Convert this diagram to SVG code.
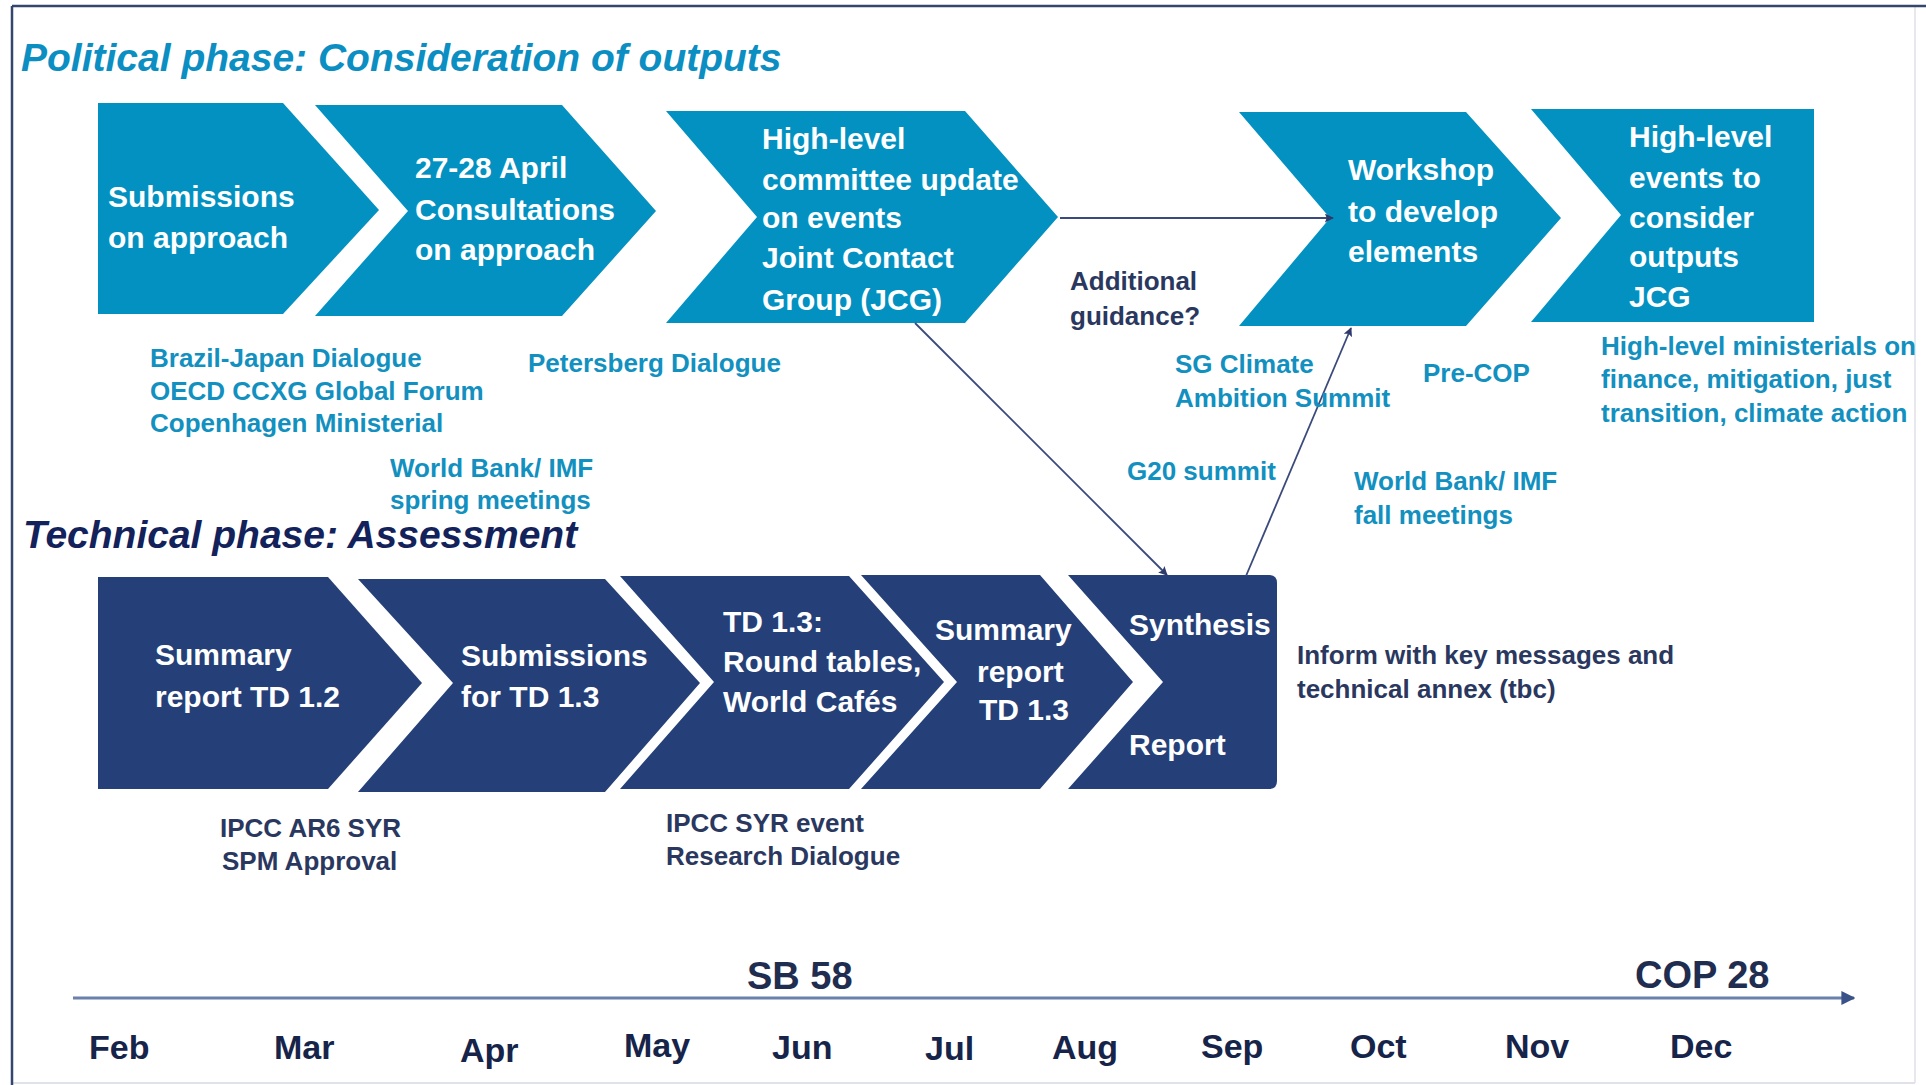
<svg xmlns="http://www.w3.org/2000/svg" width="1926" height="1085" viewBox="0 0 1926 1085">
<defs>
<style>
text{font-family:"Liberation Sans",Arial,sans-serif;font-weight:bold}
.w{fill:#ffffff;font-size:30px}
.t{fill:#1290c0;font-size:26px}
.n{fill:#2a3860;font-size:26px}
.m{fill:#17244a;font-size:34px}
.top{fill:#0391c1}
.bot{fill:#253f78}
.conn{stroke:#3b4a7c;stroke-width:1.8;fill:none}
</style>
<marker id="ah" viewBox="0 0 10 10" refX="9" refY="5" markerWidth="9" markerHeight="9" markerUnits="userSpaceOnUse" orient="auto">
<path d="M0,0 L10,5 L0,10 L2,5 Z" fill="#2d3a6a"/>
</marker>
<marker id="ah2" viewBox="0 0 10 10" refX="9" refY="5" markerWidth="14" markerHeight="14" markerUnits="userSpaceOnUse" orient="auto">
<path d="M0,0 L10,5 L0,10 Z" fill="#3b5288"/>
</marker>
</defs>
<rect x="0" y="0" width="1926" height="1085" fill="#ffffff"/>
<g id="frame">
<line x1="1915" y1="6" x2="1915" y2="1083" stroke="#e6e8ed" stroke-width="2"/>
<line x1="12" y1="1083" x2="1915" y2="1083" stroke="#dfe2e8" stroke-width="2"/>
<line x1="12" y1="6" x2="1926" y2="6" stroke="#34466e" stroke-width="2.5"/>
<line x1="12" y1="6" x2="12" y2="1085" stroke="#34466e" stroke-width="2.5"/>
</g>
<g id="titles">
<text x="21" y="71" font-size="39" font-style="italic" fill="#0b8ec2">Political phase: Consideration of outputs</text>
<text x="23" y="548" font-size="39" font-style="italic" fill="#13225a">Technical phase: Assessment</text>
</g>
<g id="p1"><path class="top" d="M98,103 L283,103 L379,210 L283,314 L98,314 Z"/>
<text class="w" x="108" y="207">Submissions</text><text class="w" x="108" y="248">on approach</text></g>
<g id="p2"><path class="top" d="M315,105 L562,105 L656,211 L562,316 L315,316 L408,211 Z"/>
<text class="w" x="415" y="178">27-28 April</text><text class="w" x="415" y="220">Consultations</text><text class="w" x="415" y="260">on approach</text></g>
<g id="p3"><path class="top" d="M666,111 L965,111 L1058,217 L965,323 L666,323 L757,217 Z"/>
<text class="w" x="762" y="149">High-level</text><text class="w" x="762" y="190">committee update</text><text class="w" x="762" y="228">on events</text><text class="w" x="762" y="268">Joint Contact</text><text class="w" x="762" y="310">Group (JCG)</text></g>
<g id="p4"><path class="top" d="M1239,112 L1466,112 L1561,218 L1466,326 L1239,326 L1330,218 Z"/>
<text class="w" x="1348" y="180">Workshop</text><text class="w" x="1348" y="222">to develop</text><text class="w" x="1348" y="262">elements</text></g>
<g id="p5"><path class="top" d="M1531,109 L1814,109 L1814,322 L1531,322 L1621,215 Z"/>
<text class="w" x="1629" y="147">High-level</text><text class="w" x="1629" y="188">events to</text><text class="w" x="1629" y="228">consider</text><text class="w" x="1629" y="267">outputs</text><text class="w" x="1629" y="307">JCG</text></g>
<g id="t1"><path class="bot" d="M98,577 L328,577 L422,683 L328,789 L98,789 Z"/>
<text class="w" x="155" y="665">Summary</text><text class="w" x="155" y="707">report TD 1.2</text></g>
<g id="t2"><path class="bot" d="M358,579 L605,579 L700,683 L605,792 L358,792 L453,683 Z"/>
<text class="w" x="461" y="666">Submissions</text><text class="w" x="461" y="707">for TD 1.3</text></g>
<g id="t3"><path class="bot" d="M620,576 L849,576 L944,682 L849,789 L620,789 L714,682 Z"/>
<text class="w" x="723" y="632">TD 1.3:</text><text class="w" x="723" y="672">Round tables,</text><text class="w" x="723" y="712">World Cafés</text></g>
<g id="t4"><path class="bot" d="M861,575 L1040,575 L1133,682 L1040,789 L861,789 L957,682 Z"/>
<text class="w" x="935" y="640">Summary</text><text class="w" x="977" y="682">report</text><text class="w" x="979" y="720">TD 1.3</text></g>
<g id="t5"><path class="bot" d="M1068,575 L1269,575 Q1277,575 1277,583 L1277,781 Q1277,789 1269,789 L1068,789 L1163,682 Z"/>
<text class="w" x="1129" y="635">Synthesis</text><text class="w" x="1129" y="755">Report</text></g>
<g id="connectors">
<line class="conn" x1="1060" y1="218" x2="1333" y2="218" marker-end="url(#ah)"/>
<line class="conn" x1="915" y1="323" x2="1167" y2="575" marker-end="url(#ah)"/>
<line class="conn" x1="1246" y1="576" x2="1351" y2="328" marker-end="url(#ah)"/>
</g>
<g id="labels">
<text class="t" x="150" y="367">Brazil-Japan Dialogue</text>
<text class="t" x="150" y="400">OECD CCXG Global Forum</text>
<text class="t" x="150" y="432">Copenhagen Ministerial</text>
<text class="t" x="528" y="372">Petersberg Dialogue</text>
<text class="t" x="390" y="477">World Bank/ IMF</text>
<text class="t" x="390" y="509">spring meetings</text>
<text class="t" x="1175" y="373">SG Climate</text>
<text class="t" x="1175" y="407">Ambition Summit</text>
<text class="t" x="1423" y="382">Pre-COP</text>
<text class="t" x="1127" y="480">G20 summit</text>
<text class="t" x="1354" y="490">World Bank/ IMF</text>
<text class="t" x="1354" y="524">fall meetings</text>
<text class="t" x="1601" y="355">High-level ministerials on</text>
<text class="t" x="1601" y="388">finance, mitigation, just</text>
<text class="t" x="1601" y="422">transition, climate action</text>
<text class="n" x="1070" y="290">Additional</text>
<text class="n" x="1070" y="325">guidance?</text>
<text class="n" x="220" y="837">IPCC AR6 SYR</text>
<text class="n" x="222" y="870">SPM Approval</text>
<text class="n" x="666" y="832">IPCC SYR event</text>
<text class="n" x="666" y="865">Research Dialogue</text>
<text class="n" x="1297" y="664">Inform with key messages and</text>
<text class="n" x="1297" y="698">technical annex (tbc)</text>
</g>
<g id="timeline">
<line x1="73" y1="998" x2="1854" y2="998" stroke="#6b80aa" stroke-width="3" marker-end="url(#ah2)"/>
<text x="747" y="989" font-size="38" fill="#1f2d50">SB 58</text>
<text x="1635" y="988" font-size="38" fill="#1f2d50">COP 28</text>
<text class="m" x="89" y="1059">Feb</text>
<text class="m" x="274" y="1059">Mar</text>
<text class="m" x="460" y="1062">Apr</text>
<text class="m" x="624" y="1057">May</text>
<text class="m" x="772" y="1059">Jun</text>
<text class="m" x="925" y="1060">Jul</text>
<text class="m" x="1052" y="1059">Aug</text>
<text class="m" x="1201" y="1058">Sep</text>
<text class="m" x="1350" y="1058">Oct</text>
<text class="m" x="1505" y="1058">Nov</text>
<text class="m" x="1670" y="1058">Dec</text>
</g>
</svg>
